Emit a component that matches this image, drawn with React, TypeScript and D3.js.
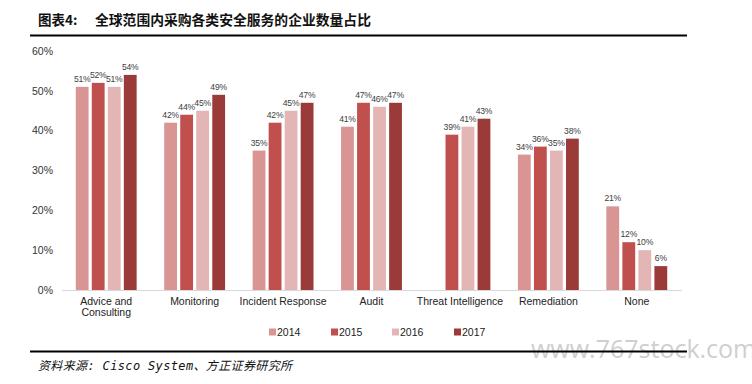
import React, { useEffect, useRef } from 'react';
import * as d3 from 'd3';

// categories and series values (percent)
const categories = ['Advice and\nConsulting', 'Monitoring', 'Incident Response', 'Audit', 'Threat Intelligence', 'Remediation', 'None'];
const years = ['2014', '2015', '2016', '2017'];
const v2014 = [51, 42, 35, 41, null, 34, 21];
const v2015 = [52, 44, 42, 47, 39, 36, 12];
const v2016 = [51, 45, 45, 46, 41, 35, 10];
const v2017 = [54, 49, 47, 47, 43, 38, 6];
const yTicks = [0, 10, 20, 30, 40, 50, 60];
const colors = ['#d99594', '#c0504d', '#e3b6b5', '#9b3b39'];

const App = () => {
  const ref = useRef<SVGSVGElement | null>(null);

  useEffect(() => {
    const width = 752;
    const height = 384;
    const margin = { top: 51, right: 71, bottom: 94, left: 62 };
    const series = [v2014, v2015, v2016, v2017];

    const svg = d3.select(ref.current);
    svg.selectAll('*').remove();
    svg.attr('width', width).attr('height', height);

    const font = '"Liberation Sans", Arial, sans-serif';

    // title + rules
    svg.append('text')
      .attr('x', 38).attr('y', 25)
      .style('font-family', '"Noto Sans CJK SC", sans-serif')
      .style('font-weight', 'bold')
      .style('font-size', '13.5px')
      .attr('fill', '#111')
      .text('图表4:');
    svg.append('text')
      .attr('x', 95).attr('y', 25)
      .style('font-family', '"Noto Sans CJK SC", sans-serif')
      .style('font-weight', 'bold')
      .style('font-size', '13.8px')
      .attr('fill', '#111')
      .text('全球范围内采购各类安全服务的企业数量占比');

    svg.append('line')
      .attr('x1', 30).attr('x2', 687).attr('y1', 35.5).attr('y2', 35.5)
      .attr('stroke', '#000').attr('stroke-width', 2);

    const xScale = d3.scaleBand()
      .domain(categories)
      .range([margin.left, width - margin.right]);

    const inner = d3.scaleBand()
      .domain(years)
      .range([0, xScale.bandwidth()])
      .paddingInner(0.2)
      .paddingOuter(0.86);

    const yScale = d3.scaleLinear()
      .domain([0, 60])
      .range([height - margin.bottom, margin.top]);

    // y tick labels
    svg.append('g')
      .selectAll('text')
      .data(yTicks)
      .enter()
      .append('text')
      .attr('x', 53)
      .attr('y', d => yScale(d))
      .attr('dy', '0.35em')
      .attr('text-anchor', 'end')
      .style('font-family', font)
      .style('font-size', '10.5px')
      .attr('fill', '#333')
      .text(d => d + '%');

    // baseline
    svg.append('line')
      .attr('x1', margin.left).attr('x2', width - margin.right + 1)
      .attr('y1', yScale(0) + 0.5).attr('y2', yScale(0) + 0.5)
      .attr('stroke', '#d9d9d9').attr('stroke-width', 1);

    // bars
    series.forEach((vals, si) => {
      const g = svg.append('g');
      const pts = categories.map((c, i) => ({ c, v: vals[i] })).filter(d => d.v !== null);
      g.selectAll('rect')
        .data(pts)
        .enter()
        .append('rect')
        .attr('x', d => xScale(d.c)! + inner(years[si])!)
        .attr('y', d => yScale(d.v as number))
        .attr('width', inner.bandwidth())
        .attr('height', d => yScale(0) - yScale(d.v as number))
        .attr('fill', colors[si]);
      g.selectAll('text')
        .data(pts)
        .enter()
        .append('text')
        .attr('x', d => xScale(d.c)! + inner(years[si])! + inner.bandwidth() / 2)
        .attr('y', d => yScale(d.v as number) - 5)
        .attr('text-anchor', 'middle')
        .style('font-family', font)
        .style('font-size', '8.6px')
        .style('letter-spacing', '-0.2px')
        .attr('fill', '#404040')
        .text(d => d.v + '%');
    });

    // category labels
    const cats = svg.append('g')
      .selectAll('text')
      .data(categories)
      .enter()
      .append('text')
      .attr('x', d => xScale(d)! + xScale.bandwidth() / 2)
      .attr('y', 305)
      .attr('text-anchor', 'middle')
      .style('font-family', font)
      .style('font-size', '10.5px')
      .attr('fill', '#222');
    cats.each(function (d) {
      const lines = d.split('\n');
      const t = d3.select(this);
      lines.forEach((l, i) => {
        t.append('tspan')
          .attr('x', xScale(d)! + xScale.bandwidth() / 2)
          .attr('dy', i === 0 ? 0 : 11)
          .text(l);
      });
    });

    // legend
    const legendX = [269, 331, 392, 454];
    const legend = svg.append('g');
    years.forEach((y, i) => {
      legend.append('rect')
        .attr('x', legendX[i]).attr('y', 328.5)
        .attr('width', 7).attr('height', 7)
        .attr('fill', colors[i]);
      legend.append('text')
        .attr('x', legendX[i] + 8).attr('y', 336)
        .style('font-family', font)
        .style('font-size', '10.5px')
        .attr('fill', '#222')
        .text(y);
    });

    // watermark (runs off the right edge, as in the source)
    svg.append('text')
      .attr('x', 531).attr('y', 358)
      .style('font-family', '"Open Sans", "Liberation Sans", sans-serif')
      .style('font-size', '25px')
      .attr('fill', '#cfcfcf')
      .text('www.767stock.com');

    // bottom rule + source
    svg.append('line')
      .attr('x1', 30).attr('x2', 687).attr('y1', 351.5).attr('y2', 351.5)
      .attr('stroke', '#000').attr('stroke-width', 2);

    svg.append('text')
      .attr('x', 38).attr('y', 370)
      .style('font-family', '"DejaVu Sans Mono", "Noto Sans CJK SC", monospace')
      .style('font-style', 'italic')
      .style('font-size', '12px')
      .attr('fill', '#111')
      .attr('textLength', 254)
      .text('资料来源: Cisco System、方正证券研究所');
  }, []);

  return (
    <svg ref={ref} style={{ position: 'absolute', left: 0, top: 0, background: '#fff' }} />
  );
};

export default App;
